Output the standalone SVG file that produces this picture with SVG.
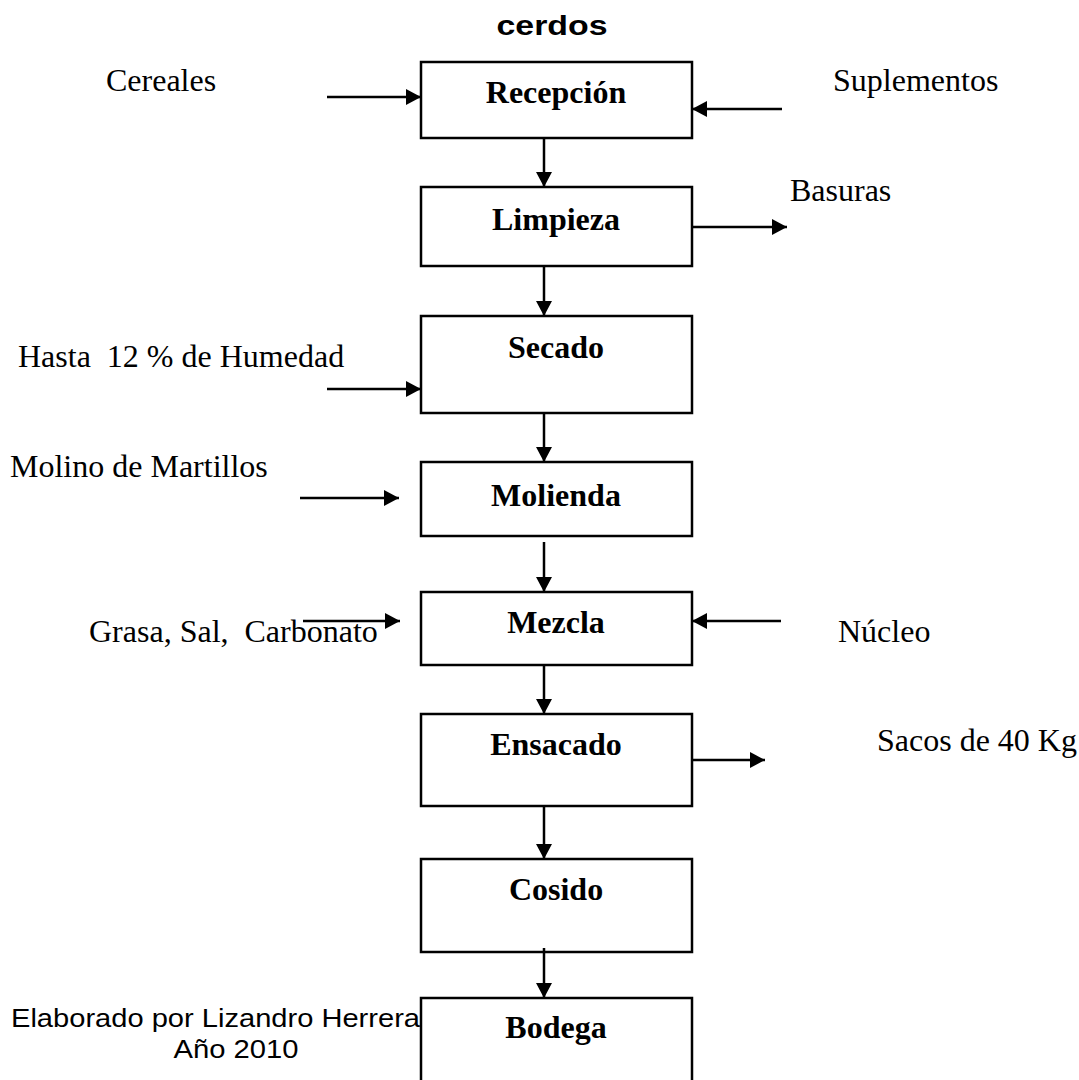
<svg xmlns="http://www.w3.org/2000/svg" width="1079" height="1080" viewBox="0 0 1079 1080">
  <style>
    .box { fill: #ffffff; stroke: #000000; stroke-width: 2.5; }
    .step { font-family: "Liberation Serif", "Times New Roman", serif; font-weight: bold; font-size: 32px; text-anchor: middle; fill: #000; }
    .note { font-family: "Liberation Serif", "Times New Roman", serif; font-size: 32px; fill: #000; white-space: pre; }
    .sans { font-family: "Liberation Sans", Arial, sans-serif; fill: #000; }
    .flow { stroke: #000; stroke-width: 2.5; fill: none; marker-end: url(#head); }
  </style>
  <defs>
    <marker id="head" viewBox="0 0 15 16" refX="15" refY="8" markerWidth="15" markerHeight="16" markerUnits="userSpaceOnUse" orient="auto">
      <path d="M0,0 L15,8 L0,16 Z" fill="#000"/>
    </marker>
  </defs>

  <rect width="1079" height="1080" fill="#ffffff"/>

  <text class="sans" x="552" y="35" font-size="28" font-weight="bold" text-anchor="middle" textLength="111" lengthAdjust="spacingAndGlyphs">cerdos</text>

  <!-- process steps -->
  <g id="recepcion"><rect class="box" x="421" y="62" width="271" height="76"/><text class="step" x="556" y="103">Recepción</text></g>
  <g id="limpieza"><rect class="box" x="421" y="187" width="271" height="79"/><text class="step" x="556" y="230">Limpieza</text></g>
  <g id="secado"><rect class="box" x="421" y="316" width="271" height="97"/><text class="step" x="556" y="358">Secado</text></g>
  <g id="molienda"><rect class="box" x="421" y="462" width="271" height="74"/><text class="step" x="556" y="506">Molienda</text></g>
  <g id="mezcla"><rect class="box" x="421" y="592" width="271" height="73"/><text class="step" x="556" y="633">Mezcla</text></g>
  <g id="ensacado"><rect class="box" x="421" y="714" width="271" height="92"/><text class="step" x="556" y="755">Ensacado</text></g>
  <g id="cosido"><rect class="box" x="421" y="859" width="271" height="93"/><text class="step" x="556" y="900">Cosido</text></g>
  <g id="bodega"><rect class="box" x="421" y="998" width="271" height="100"/><text class="step" x="556" y="1038">Bodega</text></g>

  <!-- inputs and outputs -->
  <g id="labels">
    <text class="note" x="106" y="91">Cereales</text>
    <text class="note" x="833" y="91">Suplementos</text>
    <text class="note" x="790" y="201">Basuras</text>
    <text class="note" x="18" y="367">Hasta  12 % de Humedad</text>
    <text class="note" x="10" y="477">Molino de Martillos</text>
    <text class="note" x="89" y="642">Grasa, Sal,  Carbonato</text>
    <text class="note" x="838" y="642">Núcleo</text>
    <text class="note" x="877" y="751">Sacos de 40 Kg</text>
  </g>

  <g id="credit">
    <text class="sans" x="11" y="1027" font-size="26" textLength="409" lengthAdjust="spacingAndGlyphs">Elaborado por Lizandro Herrera</text>
    <text class="sans" x="236" y="1058" font-size="26" text-anchor="middle" textLength="125" lengthAdjust="spacingAndGlyphs">Año 2010</text>
  </g>

  <!-- connectors -->
  <g id="connectors">
    <line class="flow" x1="544" y1="139" x2="544" y2="187"/>
    <line class="flow" x1="544" y1="266" x2="544" y2="316"/>
    <line class="flow" x1="544" y1="413" x2="544" y2="462"/>
    <line class="flow" x1="544" y1="542" x2="544" y2="592"/>
    <line class="flow" x1="544" y1="665" x2="544" y2="714"/>
    <line class="flow" x1="544" y1="806" x2="544" y2="859"/>
    <line class="flow" x1="544" y1="948" x2="544" y2="998"/>

    <line class="flow" x1="327" y1="97" x2="421" y2="97"/>
    <line class="flow" x1="782" y1="109" x2="692" y2="109"/>
    <line class="flow" x1="692" y1="227" x2="787" y2="227"/>
    <line class="flow" x1="327" y1="389" x2="421" y2="389"/>
    <line class="flow" x1="300" y1="498" x2="399" y2="498"/>
    <line class="flow" x1="303" y1="621" x2="400" y2="621"/>
    <line class="flow" x1="781" y1="621" x2="692" y2="621"/>
    <line class="flow" x1="692" y1="760" x2="765" y2="760"/>
  </g>
</svg>
